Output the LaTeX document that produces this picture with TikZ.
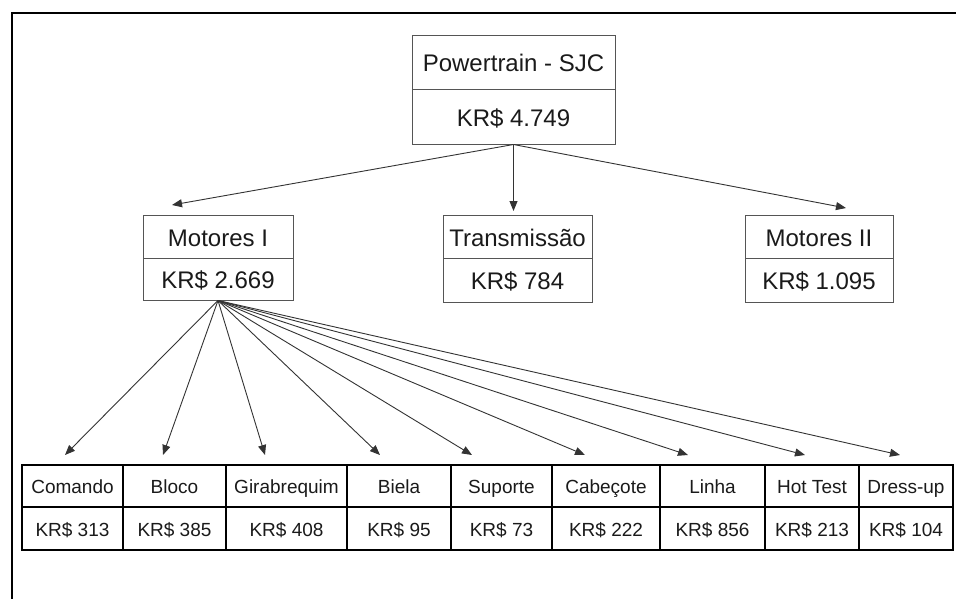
\documentclass[tikz,border=0pt]{standalone}
\usepackage{fontspec}
\setmainfont{Liberation Sans}
\usetikzlibrary{arrows.meta}
\definecolor{boxgray}{HTML}{555555}
\definecolor{linegray}{HTML}{333333}
\definecolor{textdark}{HTML}{1A1A1A}
\begin{document}
\begin{tikzpicture}[x=1pt,y=-1pt,
  ubox/.style={draw=boxgray, line width=1pt, inner sep=0pt, text=textdark,
    text height=19pt, text depth=0pt,
    font=\fontsize{24}{28}\selectfont},
  cellbox/.style={draw=black, line width=1.6pt, inner sep=0pt, text=textdark,
    text height=15pt, text depth=0pt,
    font=\fontsize{19}{22}\selectfont},
  link/.style={draw=linegray, line width=0.9pt, -{Triangle[length=10pt,width=8pt]}}]

% canvas and frame
\useasboundingbox (0,0) rectangle (956,598);
\fill[white] (0,0) rectangle (956,598);
\draw[line width=2.5pt, line cap=rect] (12,598) -- (12,13) -- (956,13);

% root
\node[ubox, minimum width=203pt, minimum height=54pt] (ptn) at (513.5,62) {Powertrain - SJC};
\node[ubox, minimum width=203pt, minimum height=55pt] (ptv) at (513.5,116.5) {KR\$ 4.749};

% second level
\node[ubox, minimum width=150pt, minimum height=43pt] (m1n) at (218,236.5) {Motores I};
\node[ubox, minimum width=150pt, minimum height=42pt] (m1v) at (218,279) {KR\$ 2.669};
\node[ubox, minimum width=149pt, minimum height=43pt] (trn) at (517.5,236.5) {Transmissão};
\node[ubox, minimum width=149pt, minimum height=44pt] (trv) at (517.5,280) {KR\$ 784};
\node[ubox, minimum width=148pt, minimum height=43pt] (m2n) at (819,236.5) {Motores II};
\node[ubox, minimum width=148pt, minimum height=44pt] (m2v) at (819,280) {KR\$ 1.095};

% arrows to second level
\coordinate (tm1) at (172,205);
\coordinate (ttr) at (513.5,211);
\coordinate (tm2) at (846,208);
\draw[link] (ptv.south) -- (tm1);
\draw[link] (ptv.south) -- (ttr);
\draw[link] (ptv.south) -- (tm2);

% third level table
\foreach \i/\xa/\xb/\lab/\val/\tx in {
  1/22/123/Comando/313/65,
  2/123/226/Bloco/385/163,
  3/226/347/Girabrequim/408/265,
  4/347/451/Biela/95/380,
  5/451/552/Suporte/73/472,
  6/552/660/Cabeçote/222/585,
  7/660/765/Linha/856/688,
  8/765/859/Hot Test/213/805,
  9/859/953/Dress-up/104/900}{
  \node[cellbox, minimum width={(\xb-\xa)*1pt}, minimum height=42pt]
    (c\i) at ({(\xa+\xb)/2},486) {\lab};
  \node[cellbox, minimum width={(\xb-\xa)*1pt}, minimum height=43pt]
    (v\i) at ({(\xa+\xb)/2},528.5) {KR\$ \val};
  \coordinate (tc\i) at (\tx,455);
  \draw[link] (m1v.south) -- (tc\i);
}
\end{tikzpicture}
\end{document}
